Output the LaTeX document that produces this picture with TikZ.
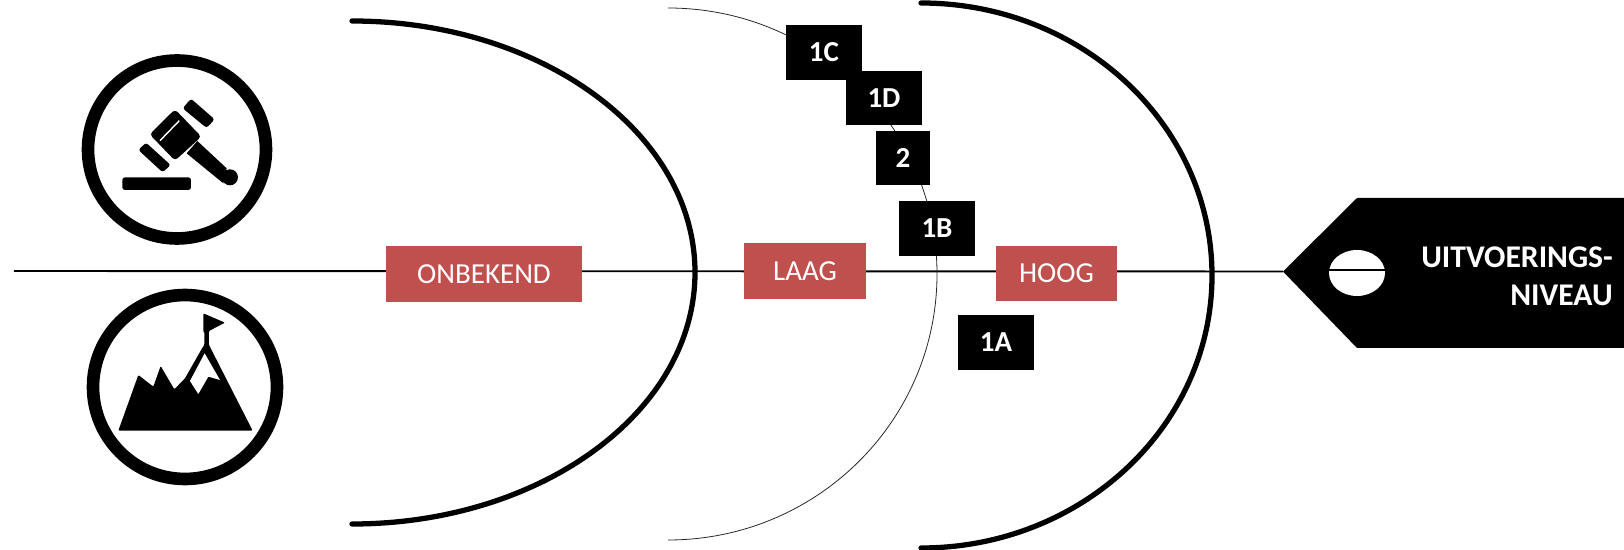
\documentclass[tikz,border=0pt]{standalone}
\usepackage{fontspec}
\setmainfont{Carlito}
\usetikzlibrary{shapes.geometric}
\definecolor{boxred}{HTML}{C0504D}
\tikzset{
	blackbox/.style={fill=black,text=white,font=\fontsize{16.5}{18}\selectfont\bfseries,inner sep=0pt,minimum height=1.1cm},
	redbox/.style={fill=boxred,text=white,font=\fontsize{16.5}{18}\selectfont,inner sep=0pt,text depth=0pt,text height=10.4pt},
	thickarc/.style={line width=3pt,line cap=round},
	thinarc/.style={line width=0.45pt,black!85},
	ring/.style={circle,draw=black,line width=7.2pt,inner sep=0pt}
}
\newcommand{\gavelicon}{\fill[rounded corners=1.5pt] (187,412) rectangle (393,450);
					\fill[rounded corners=2pt] (345,208) -- (424,290) -- (345,362) -- (269,283) -- cycle;
					\fill[rounded corners=1.5pt] (393,176) -- (464,238) -- (440,264) -- (368,205) -- cycle;
					\fill[rounded corners=1.5pt] (258,308) -- (332,375) -- (308,397) -- (235,330) -- cycle;
					\fill (380,340) -- (412,303) -- (500,385) -- (490,430) -- cycle;
					\fill (510,412) circle (24);
					\draw[white,line width=0.8pt] (300,302) -- (358,242);}
\newcommand{\mountainicon}{\fill[rounded corners=0.6pt] (145,482) -- (205,315) -- (250,350) -- (272,288) -- (313,358) -- (345,325) -- (395,237)
						-- (403,225) -- (403,185) -- (400,185) -- (400,130) -- (465,158) -- (417,183) -- (417,225) -- (548,482) -- cycle;
					\fill[white] (404,250) -- (450,330) -- (415,320) -- (385,372) -- (360,333) -- cycle;}

\begin{document}
\begin{tikzpicture}[x=0.02cm,y=-0.02cm]
	\useasboundingbox (0,0) rectangle (1624,550);

	% as
	\coordinate (linestart) at (14,271);
	\coordinate (tagtip) at (1283,271.5);
	\draw[line width=1.1pt] (linestart) -- (tagtip);

	% bogen
	\draw[thickarc] (352,21) arc[start angle=-90,end angle=90,x radius=343,y radius=251.5];
	\draw[thinarc] (668,8) arc[start angle=-90,end angle=90,x radius=269,y radius=266];
	\draw[thickarc] (921,3) arc[start angle=-90,end angle=90,x radius=291,y radius=272.5];

	% niveaus
	\node[redbox,minimum width=3.92cm,minimum height=1.12cm] (onbekend) at (484,274) {ONBEKEND};
	\node[redbox,minimum width=2.44cm,minimum height=1.12cm] (laag) at (805,271) {LAAG};
	\node[redbox,minimum width=2.44cm,minimum height=1.12cm] (hoog) at (1056.5,273.5) {HOOG};

	% blokken
	\node[blackbox,minimum width=1.52cm] (blokC) at (824,52.5) {1C};
	\node[blackbox,minimum width=1.52cm] (blokD) at (884,98) {1D};
	\node[blackbox,minimum width=1.08cm] (bloktwee) at (903,158) {2};
	\node[blackbox,minimum width=1.52cm] (blokB) at (937,228.5) {1B};
	\node[blackbox,minimum width=1.52cm] (blokA) at (996,342.5) {1A};

	% label
	\fill (tagtip) -- (1357,198) -- (1624,198) -- (1624,348) -- (1357,348) -- cycle;
	\node[ellipse,fill=white,minimum width=1.12cm,minimum height=0.92cm,inner sep=0pt] (gat) at (1357,273) {};
	\draw[line width=1.1pt] (gat.174) -- (gat.6);
	\node[anchor=east,align=right,text=white,inner sep=0pt,font=\fontsize{18}{21.4}\selectfont\bfseries] (labeltekst) at (1613,276) {UITVOERINGS-\\NIVEAU};

	% iconen
	\node[ring,minimum size=3.56cm] (hamerring) at (177,149.5) {};
	\begin{scope}[shift={(60,40)},scale=0.3333]
		\gavelicon
	\end{scope}
	\node[ring,minimum size=3.68cm] (bergring) at (185,387) {};
	\begin{scope}[shift={(70,270)},scale=0.3333]
		\mountainicon
	\end{scope}
\end{tikzpicture}
\end{document}
